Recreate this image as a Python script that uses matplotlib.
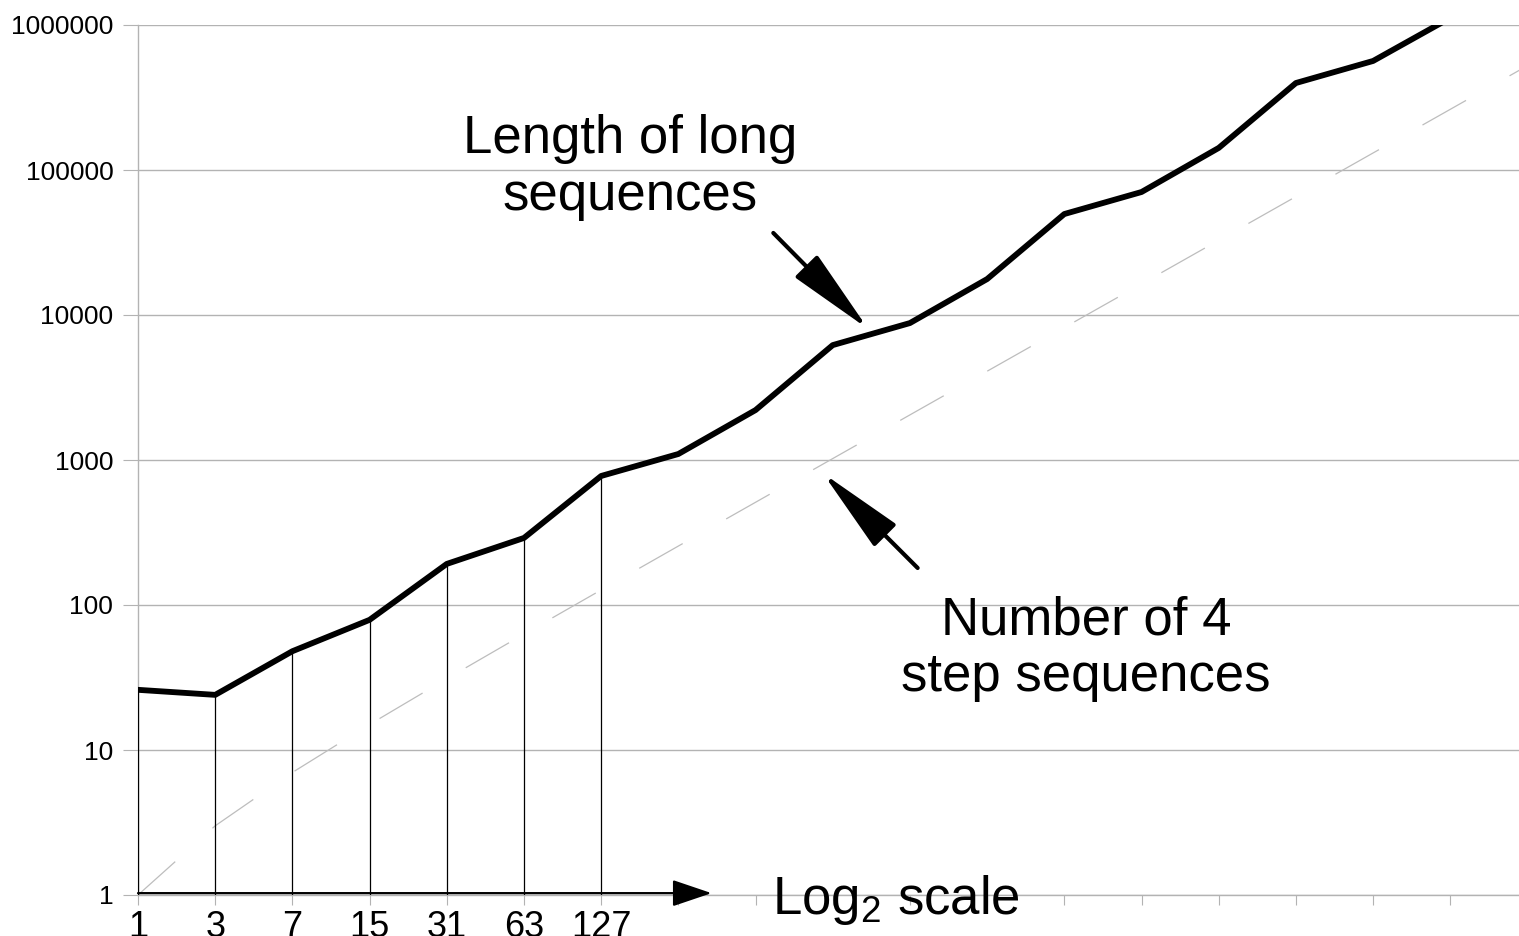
import matplotlib
matplotlib.use('Agg')
import matplotlib.pyplot as plt
from matplotlib.ticker import FixedLocator, NullLocator, FuncFormatter

plt.rcParams['font.family'] = ['Liberation Sans', 'DejaVu Sans']
plt.rcParams['mathtext.fontset'] = 'custom'
plt.rcParams['mathtext.rm'] = 'Liberation Sans'
plt.rcParams['mathtext.it'] = 'Liberation Sans'
plt.rcParams['lines.scale_dashes'] = False

# x categories (log2 steps), only the first seven are labelled
x_labels = ['1', '3', '7', '15', '31', '63', '127',
            '', '', '', '', '', '', '', '', '', '', '']
# length of long sequences
long_seq = [26, 24, 48, 79, 192, 290, 776, 1100, 2210, 6200, 8800,
            17700, 49700, 70500, 142000, 398000, 565000, 1120000]
# number of 4 step sequences
four_step = [1, 3, 7, 15, 31, 63, 127, 255, 511, 1023, 2047, 4095,
             8191, 16383, 32767, 65535, 131071, 262143, 524287]
n_drop = 7  # drop lines under the labelled points

grey = '#b3b3b3'
fig = plt.figure(figsize=(15.19, 9.36), dpi=100)
ax = fig.add_axes([138 / 1519, 41 / 936, 1381 / 1519, 870 / 936])

pos_long = list(range(len(long_seq)))
pos_four = list(range(len(four_step)))

ax.plot(pos_four, four_step, color='#bdbdbd', lw=0.9, dashes=(36, 36), zorder=2)
ax.vlines(pos_long[:n_drop], 1, long_seq[:n_drop], color='black', lw=0.9, zorder=3)
ax.plot(pos_long, long_seq, color='black', lw=4.2, zorder=4)

ax.set_yscale('log')
ax.set_ylim(1, 1000000)
ax.set_xlim(0, 17.89)
ax.yaxis.set_major_locator(FixedLocator([1, 10, 100, 1000, 10000, 100000, 1000000]))
ax.yaxis.set_minor_locator(NullLocator())
ax.yaxis.set_major_formatter(FuncFormatter(lambda v, p: '%d' % round(v)))
ax.set_xticks(range(len(x_labels)))
ax.set_xticklabels(x_labels)

ax.grid(axis='y', color=grey, lw=1.0)
ax.set_axisbelow(True)
for s in ['top', 'right']:
    ax.spines[s].set_visible(False)
for s in ['left', 'bottom']:
    ax.spines[s].set_color(grey)
    ax.spines[s].set_linewidth(1.0)
ax.tick_params(axis='y', colors=grey, length=10.8, width=0.8, pad=7,
               labelcolor='black', labelsize=19)
ax.tick_params(axis='x', colors=grey, length=7.2, width=0.8, pad=3.5,
               labelcolor='black', labelsize=26)

# x axis arrow
ax.annotate('', xy=(7.43, 1.03), xytext=(0, 1.03),
            arrowprops=dict(arrowstyle='-|>,head_length=24.5,head_width=8.3',
                            mutation_scale=1, lw=1.6, color='black',
                            shrinkA=0, shrinkB=0), annotation_clip=False)
fig.text(772 / 1519, 22 / 936, 'Log$_2$ scale', fontsize=38, va='baseline', ha='left')

# labels with pointers
ax.text(6.37, 104000, 'Length of long\nsequences', fontsize=38,
        ha='center', va='center', linespacing=1.17)
ax.annotate('', xy=(9.46, 8000), xytext=(8.23, 36800),
            arrowprops=dict(arrowstyle='-|>,head_length=54,head_width=9.7',
                            mutation_scale=1, lw=3, color='black',
                            shrinkA=0, shrinkB=0))
ax.text(12.28, 50, 'Number of 4\nstep sequences', fontsize=38,
        ha='center', va='center', linespacing=1.15)
ax.annotate('', xy=(8.87, 813), xytext=(10.1, 180),
            arrowprops=dict(arrowstyle='-|>,head_length=54,head_width=9.7',
                            mutation_scale=1, lw=3, color='black',
                            shrinkA=0, shrinkB=0))

fig.savefig('out.png', dpi=100)
